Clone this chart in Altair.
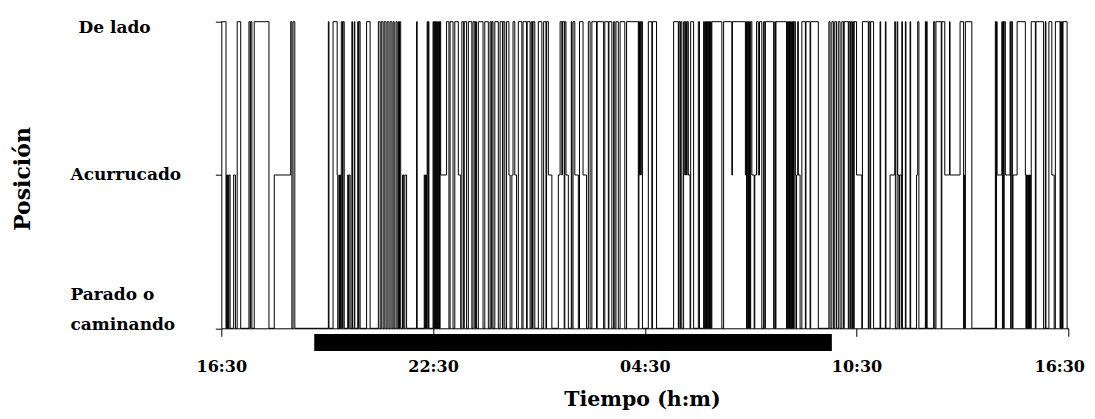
import altair as alt
import pandas as pd

# Position changes: (minutes after 16:30, position code) ; 0 = Parado o caminando, 1 = Acurrucado, 2 = De lado
seg_a = [(0, 2), (8, 0), (9, 1), (10, 0), (11, 1), (12, 0), (13, 1), (15, 0), (21, 1), (24, 0), (27, 2), (33, 0),
         (47, 2), (49, 0), (50, 2), (52, 0), (56, 2), (81, 0), (90, 1), (118, 2), (120, 0), (122, 2), (125, 0)]
seg_b = [(182, 2), (183, 0), (190, 2), (197, 1), (198, 0), (200, 1), (201, 0), (202, 1), (203, 0), (204, 2), (206, 0),
         (207, 2), (209, 0), (215, 1), (216, 0), (217, 1), (219, 0), (222, 2), (223, 0), (226, 2), (227, 0), (232, 2),
         (233, 0), (234, 2), (236, 0), (247, 2), (253, 0), (267, 2), (270, 0), (272, 2), (275, 0), (277, 2), (280, 0),
         (282, 2), (285, 0), (287, 2), (290, 0), (292, 2), (294, 0), (297, 2), (299, 0), (301, 2), (302, 0), (303, 2),
         (305, 0), (308, 1), (310, 0), (312, 1), (315, 0), (332, 2), (333, 0), (345, 1), (346, 0), (347, 1), (348, 0),
         (349, 1), (350, 2), (351, 0), (352, 2), (353, 0)]
seg_c = [(360, 2), (361, 0), (362, 2), (363, 0), (364, 2), (365, 0), (366, 2), (367, 0), (368, 2), (369, 0), (370, 2),
         (371, 0), (372, 2), (373, 1), (383, 2), (387, 0), (389, 2), (394, 0), (397, 2), (403, 1), (407, 0), (409, 2),
         (412, 0), (413, 2), (417, 0), (420, 2), (426, 0), (428, 2), (431, 0), (432, 2), (434, 0), (437, 2), (445, 0),
         (448, 2), (454, 0), (457, 2), (459, 0), (460, 2), (462, 0), (465, 2), (471, 0), (474, 2), (478, 0), (479, 2),
         (482, 0), (485, 2), (489, 1), (491, 0), (494, 1), (496, 2), (499, 1), (502, 0), (505, 2), (511, 0), (513, 2),
         (519, 0), (520, 2), (525, 0), (527, 2), (529, 0), (530, 2), (533, 0)]
seg_d = [(539, 2), (545, 0), (548, 2), (552, 0), (553, 2), (556, 1), (562, 0), (573, 1), (576, 2), (579, 1), (580, 2),
         (583, 0), (584, 2), (586, 1), (590, 0), (595, 2), (596, 0), (598, 2), (601, 1), (607, 0), (609, 2), (615, 1),
         (621, 0), (624, 2), (627, 0), (630, 2), (638, 0), (639, 2), (650, 0), (652, 2), (658, 0), (659, 2), (664, 0),
         (667, 2), (669, 0), (671, 2), (675, 0), (678, 2), (686, 0), (689, 2)]
seg_e = [(709, 0), (710, 2), (711, 1), (712, 2), (713, 1), (714, 2), (716, 0), (726, 2), (732, 0), (733, 2), (740, 0),
         (769, 2), (777, 0), (778, 2), (780, 0), (781, 2), (783, 0), (786, 2), (788, 1), (789, 2), (791, 1), (792, 2),
         (794, 1), (797, 0), (798, 2), (803, 0), (811, 2), (813, 0), (820, 2), (821, 0), (822, 2), (823, 0), (824, 2),
         (825, 0), (826, 2), (827, 0), (828, 2), (829, 0), (830, 2), (831, 0), (832, 2), (833, 0), (834, 2), (851, 0),
         (854, 2), (868, 1), (869, 2)]
seg_f = [(891, 1), (892, 2), (893, 0), (894, 2), (895, 0), (896, 2), (897, 0), (898, 2), (899, 0), (900, 2), (902, 1),
         (906, 0), (907, 1), (910, 2), (913, 1), (915, 2), (919, 0), (922, 2), (924, 0), (925, 2), (939, 0), (941, 2),
         (942, 0), (943, 2), (961, 0), (962, 2), (963, 0), (964, 2), (965, 0), (966, 2), (967, 0), (968, 2), (969, 0),
         (970, 2), (971, 0), (972, 2), (973, 0), (974, 2), (976, 1), (977, 0), (978, 1), (980, 2), (981, 1), (984, 0),
         (987, 2), (993, 0), (994, 2), (1001, 0), (1002, 2), (1015, 0), (1033, 2), (1035, 0), (1038, 2), (1041, 0),
         (1043, 2), (1046, 0), (1049, 2), (1052, 0), (1055, 2)]
seg_g = [(1058, 0), (1059, 2), (1066, 0), (1067, 2), (1069, 0), (1070, 2), (1072, 0), (1073, 2), (1075, 0), (1076, 2),
         (1080, 1), (1089, 0), (1090, 2), (1100, 0), (1101, 2), (1103, 0), (1104, 2), (1109, 0), (1120, 2), (1121, 0),
         (1129, 2), (1130, 0), (1137, 1), (1145, 2), (1146, 0), (1149, 2), (1150, 1), (1152, 0), (1153, 1), (1156, 0),
         (1157, 2), (1158, 0), (1163, 2), (1164, 0), (1171, 2), (1172, 0), (1182, 1), (1184, 2), (1186, 0), (1197, 2),
         (1198, 0), (1199, 2), (1200, 0), (1211, 2), (1213, 0), (1215, 2), (1224, 0), (1225, 2), (1230, 1)]
seg_h = [(1238, 2), (1239, 1), (1256, 2), (1262, 0), (1263, 1), (1264, 0), (1265, 2), (1276, 0), (1316, 2), (1317, 0),
         (1318, 2), (1319, 1), (1327, 2), (1328, 0), (1329, 2), (1330, 0), (1331, 2), (1333, 1), (1341, 2), (1342, 0),
         (1343, 2), (1345, 0), (1346, 1), (1353, 2), (1367, 1), (1368, 0), (1369, 1), (1370, 0), (1371, 1), (1372, 0),
         (1373, 1), (1374, 0), (1375, 1), (1376, 0), (1377, 2), (1384, 0), (1385, 2), (1398, 0), (1401, 2), (1402, 0),
         (1407, 2), (1412, 1), (1416, 0), (1418, 2), (1426, 0), (1427, 2), (1428, 0), (1429, 2), (1430, 0), (1431, 2),
         (1438, 0), (1440, 0)]

tick_min = [0, 360, 720, 1080, 1440]
tick_labels = ["16:30", "22:30", "04:30", "10:30", "16:30"]
level_values = [0, 1, 2]
level_labels = ["Parado o\ncaminando", "Acurrucado", "De lado"]
night_start_min = [158]
night_end_min = [1038]

rows = []
for seg in (seg_a, seg_b, seg_c, seg_d, seg_e, seg_f, seg_g, seg_h):
    for t, s in seg:
        rows.append({"t": t, "s": s})
df = pd.DataFrame(rows)
night = pd.DataFrame({"t": night_start_min, "end": night_end_min})

x_expr = " : ".join(f"datum.value == {v} ? '{l}'" for v, l in zip(tick_min, tick_labels)) + " : ''"


def js_label(lbl):
    parts = lbl.split("\n")
    if len(parts) == 1:
        return "'" + lbl + "'"
    return "[" + ", ".join("'" + p + "'" for p in parts) + "]"


y_expr = " : ".join(f"datum.value == {v} ? {js_label(l)}" for v, l in zip(level_values, level_labels)) + " : ''"

FONT = "DejaVu Serif"

x_axis = alt.Axis(
    values=tick_min, labelExpr=x_expr, title="Tiempo (h:m)",
    labelFont=FONT, labelFontWeight="bold", labelFontSize=16, labelColor="black",
    labelBaseline="alphabetic", labelPadding=35.4, tickSize=8, tickColor="black",
    labelOffset={"condition": {"test": "datum.value == 1440", "value": -9}, "value": 0},
    domainColor="black", grid=False, labelFlush=False, labelOverlap=False,
    titleFont=FONT, titleFontWeight="bold", titleFontSize=20.5, titleColor="black",
    titleX=420.7, titleY=77.5, titleAlign="center", titleBaseline="alphabetic",
)

y_axis = alt.Axis(
    values=level_values, labelExpr=y_expr, title="Posición",
    labelFont=FONT, labelFontWeight="bold", labelFontSize=17, labelColor="black",
    labelAlign="left", labelBaseline="alphabetic", labelLineHeight=30,
    labelOffset={"condition": [{"test": "datum.value == 2", "value": 10.6},
                               {"test": "datum.value == 1", "value": 4.3}], "value": -28.3},
    labelPadding={"condition": {"test": "datum.value == 2", "value": 137.3}, "value": 145.3},
    tickSize=6, tickColor="black", domainColor="black", grid=False, labelOverlap=False,
    titleFont=FONT, titleFontWeight="bold", titleFontSize=22, titleColor="black",
    titleAngle=270, titleX=-199, titleY=156.8, titleAlign="center", titleBaseline="middle",
)

xscale = alt.Scale(domain=[0, 1440], nice=False, zero=False)

line = alt.Chart(df).mark_line(interpolate="step-after", color="black", strokeWidth=1).encode(
    x=alt.X("t:Q", scale=xscale, axis=x_axis),
    y=alt.Y("s:Q", scale=alt.Scale(domain=[0, 2], nice=False), axis=y_axis),
    order=alt.Order("t:Q"),
)

bar = alt.Chart(night).mark_rect(color="black").encode(
    x=alt.X("t:Q", scale=xscale, axis=x_axis),
    x2="end:Q",
    y=alt.value(312.3),
    y2=alt.value(329.3),
)

chart = alt.layer(line, bar).properties(
    width=847, height=306.6,
    padding={"left": 213.3, "top": 13.7, "right": 18, "bottom": 82.5},
    autosize=alt.AutoSizeParams(type="none"),
    background="white",
).configure_view(stroke=None)

chart.save("out.html", embed_options={"renderer": "svg", "actions": False})
